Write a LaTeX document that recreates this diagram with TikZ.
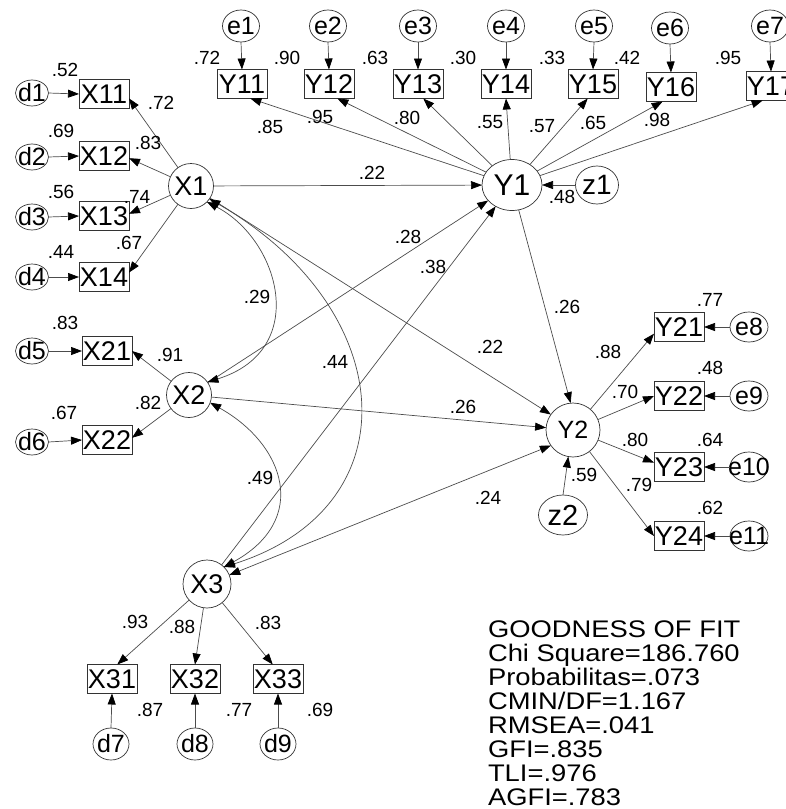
\documentclass[tikz,border=0pt]{standalone}
\usepackage{fontspec}
\setmainfont{Liberation Sans}
\usetikzlibrary{arrows.meta,shapes.geometric}

\begin{document}
\begin{tikzpicture}[x=1pt,y=-1pt,
  every node/.style={inner sep=0pt,outer sep=0pt},
  zerotext/.style={execute at begin node={\hbox to 0pt\bgroup\hss},
                   execute at end node={\hss\egroup}},
  lat/.style={ellipse,draw=black!80,line width=0.7pt,zerotext,
              font=\fontsize{27}{27}\selectfont},
  err/.style={ellipse,draw=black!80,line width=0.7pt,zerotext,
              font=\fontsize{25}{25}\selectfont},
  obs/.style={rectangle,draw=black!80,line width=0.7pt,zerotext,
              minimum width=50pt,minimum height=29pt,
              font=\fontsize{27}{27}\selectfont},
  tip/.tip={Triangle[length=11pt,width=8pt,color=black]},
  reg/.style={draw=black!70,line width=0.7pt,-tip},
  cov/.style={draw=black!70,line width=0.7pt,tip-tip},
  est/.style={font=\fontsize{19}{19}\selectfont},
  gof/.style={anchor=base west,font=\fontsize{24}{24}\selectfont}
]
\path[use as bounding box] (0,0) rectangle (785,809);

% ---------- latent variables ----------
\node[lat,minimum width=45pt,minimum height=45pt] (X1) at (191,186) {X1};
\node[lat,minimum width=45pt,minimum height=45pt] (X2) at (189,395) {X2};
\node[lat,minimum width=48pt,minimum height=48pt] (X3) at (207,584) {X3};
\node[lat,minimum width=60pt,minimum height=51pt,font=\fontsize{30}{30}\selectfont] (Y1) at (512,185) {Y1};
\node[lat,minimum width=54pt,minimum height=54pt,font=\fontsize{25}{25}\selectfont] (Y2) at (573,430) {Y2};

% ---------- indicators of Y1 ----------
\foreach \n/\x/\y in {11/242/84,12/329/84,13/418/84,14/506/84,15/593/84,16/671/87,17/771/86}
  \node[obs] (Y\n) at (\x,\y) {Y\n};
\foreach \n/\x/\y in {1/241/26,2/328/26,3/418/26,4/506/26,5/594/26,6/670/28,7/770/26}
  \node[err,minimum width=37pt,minimum height=32pt] (e\n) at (\x,\y) {e\n};
\foreach \n in {1,...,7} {
  \pgfmathtruncatemacro{\m}{\n+10}
  \draw[reg] (e\n.south) -- (Y\m.north);
}

% ---------- indicators of X1, X2 ----------
\foreach \n/\y in {11/94,12/156,13/216,14/277}
  \node[obs] (X\n) at (104,\y) {X\n};
\foreach \n/\y in {21/351,22/440}
  \node[obs] (X\n) at (107,\y) {X\n};
\foreach \k/\y in {1/93,2/157,3/217,4/277,5/351,6/442}
  \node[err,minimum width=33pt,minimum height=24pt] (d\k) at (32,\y) {d\k};
\foreach \k/\n in {1/11,2/12,3/13,4/14,5/21,6/22}
  \draw[reg] (d\k.east) -- (X\n.west);

% ---------- indicators of X3 ----------
\foreach \n/\x in {31/112,32/195,33/278}
  \node[obs] (X\n) at (\x,679) {X\n};
\foreach \k/\x in {7/111,8/195,9/278}
  \node[err,minimum width=36pt,minimum height=32pt] (d\k) at (\x,744) {d\k};
\foreach \k/\n in {7/31,8/32,9/33}
  \draw[reg] (d\k.north) -- (X\n.south);

% ---------- indicators of Y2 ----------
\foreach \n/\y in {21/327,22/396,23/467,24/536}
  \node[obs] (Y\n) at (679,\y) {Y\n};
\foreach \k/\y in {8/327,9/396,10/467,11/536}
  \node[err,minimum width=38pt,minimum height=30pt] (e\k) at (749,\y) {e\k};
\foreach \k/\n in {8/21,9/22,10/23,11/24}
  \draw[reg] (e\k.west) -- (Y\n.east);

% ---------- disturbances ----------
\node[err,minimum width=43pt,minimum height=38pt,font=\fontsize{28}{28}\selectfont] (z1) at (597,185) {z1};
\node[err,minimum width=49pt,minimum height=40pt,font=\fontsize{29}{29}\selectfont] (z2) at (563,515) {z2};
\draw[reg] (z1.west) -- (Y1.east);
\draw[reg] (z2.north) -- (Y2.-100);

% ---------- loadings ----------
\draw[reg] (X1) -- (X11.-10);
\draw[reg] (X1) -- (X12.-5);
\draw[reg] (X1) -- (X13.5);
\draw[reg] (X1) -- (X14.10);
\draw[reg] (X2) -- (X21.east);
\draw[reg] (X2) -- (X22.5);
\draw[reg] (X3) -- (X31.70);
\draw[reg] (X3) -- (X32.north);
\draw[reg] (X3) -- (X33.110);
\draw[reg] (Y1) -- (Y11.-60);
\draw[reg] (Y1) -- (Y12.-60);
\draw[reg] (Y1) -- (Y13.-70);
\draw[reg] (Y1) -- (Y14.south);
\draw[reg] (Y1) -- (Y15.-110);
\draw[reg] (Y1) -- (Y16.-120);
\draw[reg] (Y1) -- (Y17.-120);
\draw[reg] (Y2) -- (Y21.-165);
\draw[reg] (Y2) -- (Y22.west);
\draw[reg] (Y2) -- (Y23.170);
\draw[reg] (Y2) -- (Y24.west);

% ---------- structural paths ----------
\draw[reg] (X1) -- (Y1);
\draw[reg] (X2) -- (Y1);
\draw[reg] (X3) -- (Y1);
\draw[reg] (X1) -- (Y2.145);
\draw[reg] (X2) -- (Y2.175);
\draw[cov] (X3) -- (Y2.-145);
\draw[reg] (Y1) -- (Y2.95);

% ---------- correlations among exogenous factors ----------
\draw[cov] (X1.-45) .. controls +(73,38) and +(103,-32) .. (X2.35);
\draw[cov] (X1.-35) .. controls +(190,110) and +(190,-60) .. (X3.45);
\draw[cov] (X2.-20) .. controls +(75,42) and +(86,-47) .. (X3.45);

% ---------- estimates ----------
\begin{scope}[every node/.append style={est}]
\node (r11) at (207,58) {.72};
\node (r12) at (287,58) {.90};
\node (r13) at (375,58) {.63};
\node (r14) at (463,58) {.30};
\node (r15) at (552,58) {.33};
\node (r16) at (627,58) {.42};
\node (r17) at (728,58) {.95};
\node (l11) at (270,127) {.85};
\node (l12) at (320,117) {.95};
\node (l13) at (407,118) {.80};
\node (l14) at (490,122) {.55};
\node (l15) at (542,126) {.57};
\node (l16) at (593,123) {.65};
\node (l17) at (657,120) {.98};
\node (rz1) at (562,197) {.48};
\node (rx11) at (65,70) {.52};
\node (rx12) at (61,131) {.69};
\node (rx13) at (61,192) {.56};
\node (rx14) at (61,252) {.44};
\node (lx11) at (161,103) {.72};
\node (lx12) at (148,143) {.83};
\node (lx13) at (137,197) {.74};
\node (lx14) at (129,243) {.67};
\node (b11) at (372,173) {.22};
\node (rx21) at (65,323) {.83};
\node (rx22) at (64,413) {.67};
\node (lx21) at (170,355) {.91};
\node (lx22) at (148,403) {.82};
\node (c12) at (257,297) {.29};
\node (c13) at (335,362) {.44};
\node (c23) at (260,478) {.49};
\node (b21) at (408,237) {.28};
\node (b31) at (433,267) {.38};
\node (byy) at (567,307) {.26};
\node (b12) at (490,347) {.22};
\node (b22) at (463,407) {.26};
\node (b32) at (488,498) {.24};
\node (ry21) at (710,300) {.77};
\node (ry22) at (710,368) {.48};
\node (ry23) at (710,440) {.64};
\node (ry24) at (710,508) {.62};
\node (ly21) at (608,352) {.88};
\node (ly22) at (625,392) {.70};
\node (ly23) at (635,440) {.80};
\node (ly24) at (639,485) {.79};
\node (rz2) at (584,475) {.59};
\node (lx31) at (135,622) {.93};
\node (lx32) at (182,627) {.88};
\node (lx33) at (268,623) {.83};
\node (rx31) at (150,710) {.87};
\node (rx32) at (239,710) {.77};
\node (rx33) at (320,710) {.69};
\end{scope}

% ---------- fit summary ----------
\node[gof] (g1) at (488,637) {\scalebox{1.14}[1]{GOODNESS OF FIT}};
\node[gof] (g2) at (488,661) {\scalebox{1.14}[1]{Chi Square=186.760}};
\node[gof] (g3) at (488,685) {\scalebox{1.14}[1]{Probabilitas=.073}};
\node[gof] (g4) at (488,709) {\scalebox{1.14}[1]{CMIN/DF=1.167}};
\node[gof] (g5) at (488,733) {\scalebox{1.14}[1]{RMSEA=.041}};
\node[gof] (g6) at (488,757) {\scalebox{1.14}[1]{GFI=.835}};
\node[gof] (g7) at (488,781) {\scalebox{1.14}[1]{TLI=.976}};
\node[gof] (g8) at (488,805) {\scalebox{1.14}[1]{AGFI=.783}};
\end{tikzpicture}
\end{document}
